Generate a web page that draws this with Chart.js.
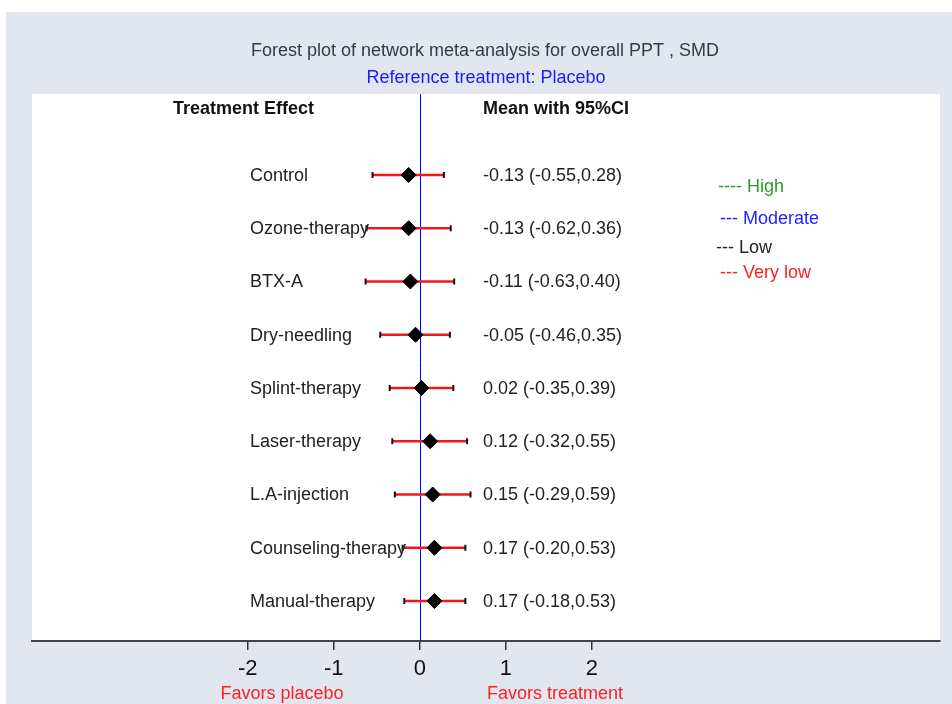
<!DOCTYPE html>
<html>
<head>
<meta charset="utf-8">
<script src="https://cdn.jsdelivr.net/npm/chart.js@4"></script>
<style>
  body { margin: 0; background: #fff; }
  #wrap { width: 952px; height: 704px; }
</style>
</head>
<body>
<div id="wrap"><canvas id="forest" width="952" height="704"></canvas></div>
<script>
const treatments = ["Control", "Ozone-therapy", "BTX-A", "Dry-needling", "Splint-therapy",
  "Laser-therapy", "L.A-injection", "Counseling-therapy", "Manual-therapy"];
const means = [-0.13, -0.13, -0.11, -0.05, 0.02, 0.12, 0.15, 0.17, 0.17];
const lower = [-0.55, -0.62, -0.63, -0.46, -0.35, -0.32, -0.29, -0.20, -0.18];
const upper = [0.28, 0.36, 0.40, 0.35, 0.39, 0.55, 0.59, 0.53, 0.53];
const xTicks = [-2, -1, 0, 1, 2];
const legendItems = ["---- High", "--- Moderate", "--- Low", "--- Very low"];
const legendColors = ["#2e9a2e", "#1f1fff", "#222222", "#ff1f1f"];

const FONT = "Arial, 'Liberation Sans', sans-serif";

const backdrop = {
  id: "backdrop",
  beforeDraw(chart) {
    const { ctx, chartArea } = chart;
    ctx.save();
    ctx.fillStyle = "#ffffff";
    ctx.fillRect(0, 0, chart.width, chart.height);
    ctx.fillStyle = "#e1e6ef";
    ctx.fillRect(6, 12, chart.width - 6, chart.height - 12);
    ctx.fillStyle = "#ffffff";
    ctx.fillRect(chartArea.left, chartArea.top, chartArea.right - chartArea.left, chartArea.bottom - chartArea.top);
    ctx.restore();
  },
};

const errorBars = {
  id: "errorBars",
  beforeDatasetsDraw(chart) {
    const { ctx, chartArea } = chart;
    const xs = chart.scales.x;
    const ys = chart.scales.y;
    ctx.save();
    // reference line at zero
    const x0 = Math.round(xs.getPixelForValue(0)) + 0.5;
    ctx.strokeStyle = "#0000ff";
    ctx.lineWidth = 1;
    ctx.beginPath();
    ctx.moveTo(x0, chartArea.top);
    ctx.lineTo(x0, chartArea.bottom);
    ctx.stroke();

    treatments.forEach((t, i) => {
      const y = ys.getPixelForValue(i + 1);
      const xl = xs.getPixelForValue(lower[i]);
      const xu = xs.getPixelForValue(upper[i]);
      ctx.strokeStyle = "#f01818";
      ctx.lineWidth = 2.5;
      ctx.beginPath();
      ctx.moveTo(xl, y);
      ctx.lineTo(xu, y);
      ctx.stroke();
      ctx.strokeStyle = "#111";
      ctx.lineWidth = 2;
      ctx.beginPath();
      ctx.moveTo(xl, y - 3);
      ctx.lineTo(xl, y + 3);
      ctx.moveTo(xu, y - 3);
      ctx.lineTo(xu, y + 3);
      ctx.stroke();
    });
    ctx.restore();
  },
};

const labels = {
  id: "labels",
  afterDraw(chart) {
    const { ctx, chartArea } = chart;
    const ys = chart.scales.y;
    ctx.save();
    ctx.textBaseline = "middle";

    ctx.textAlign = "center";
    ctx.font = "18px " + FONT;
    ctx.fillStyle = "#333a4a";
    ctx.fillText("Forest plot of network meta-analysis for overall PPT , SMD", 485, 51);
    ctx.fillStyle = "#1a1aff";
    ctx.fillText("Reference treatment: Placebo", 486, 78);

    ctx.textAlign = "left";
    ctx.font = "bold 18px " + FONT;
    ctx.fillStyle = "#111";
    ctx.fillText("Treatment Effect", 173, chartArea.top + 15);
    ctx.fillText("Mean with 95%CI", 483, chartArea.top + 15);

    ctx.font = "18px " + FONT;
    treatments.forEach((t, i) => {
      const y = ys.getPixelForValue(i + 1);
      ctx.fillStyle = "#222";
      ctx.fillText(t, 250, y + 1);
      const txt = means[i].toFixed(2) + " (" + lower[i].toFixed(2) + "," + upper[i].toFixed(2) + ")";
      ctx.fillText(txt, 483, y + 1);
    });

    const legendY = [187, 219, 248, 273];
    const legendX = [718, 720, 716, 720];
    ctx.font = "18px " + FONT;
    legendItems.forEach((s, i) => {
      ctx.fillStyle = legendColors[i];
      ctx.fillText(s, legendX[i], legendY[i]);
    });

    ctx.textAlign = "center";
    ctx.font = "18px " + FONT;
    ctx.fillStyle = "#ff1f1f";
    ctx.fillText("Favors placebo", 282, 694);
    ctx.fillText("Favors treatment", 555, 694);
    ctx.restore();
  },
};

new Chart(document.getElementById("forest"), {
  type: "scatter",
  data: {
    datasets: [
      {
        data: means.map((m, i) => ({ x: m, y: i + 1 })),
        pointStyle: "rectRot",
        pointRadius: 7.5,
        pointBackgroundColor: "#000",
        pointBorderColor: "#000",
        pointBorderWidth: 1,
      },
    ],
  },
  options: {
    responsive: false,
    animation: false,
    events: [],
    layout: { padding: { left: 32, right: 12, top: 94, bottom: 0 } },
    plugins: {
      legend: { display: false },
      tooltip: { enabled: false },
    },
    scales: {
      x: {
        type: "linear",
        min: -4.51,
        max: 6.05,
        afterBuildTicks: (s) => {
          s.ticks = xTicks.map((v) => ({ value: v }));
        },
        afterFit: (s) => {
          s.height = 63;
        },
        grid: {
          drawOnChartArea: false,
          drawTicks: true,
          tickLength: 9,
          color: "#333",
          lineWidth: 1.5,
        },
        border: { display: true, color: "#444", width: 2 },
        ticks: {
          font: { family: FONT, size: 22 },
          color: "#111",
          padding: 6,
          maxRotation: 0,
          callback: (v) => String(v),
        },
      },
      y: {
        type: "linear",
        display: false,
        reverse: true,
        min: -0.521,
        max: 9.751,
      },
    },
  },
  plugins: [backdrop, errorBars, labels],
});
</script>
</body>
</html>
